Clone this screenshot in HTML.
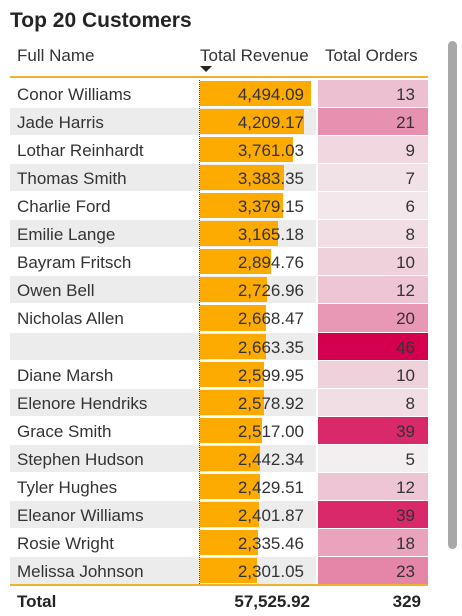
<!DOCTYPE html>
<html><head><meta charset="utf-8"><style>
body{margin:0;width:462px;height:616px;background:#fff;overflow:hidden;font-family:"Liberation Sans",sans-serif;color:#252423;position:relative}
.t{position:absolute;white-space:nowrap}
</style></head><body>
<div class="t" style="left:10px;top:9px;font-size:21px;font-weight:bold;color:#252423">Top 20 Customers</div>
<div class="t" style="left:17px;top:46px;font-size:17px;color:#333">Full Name</div>
<div class="t" style="left:200px;top:46px;font-size:17px;color:#333">Total Revenue</div>
<div class="t" style="left:325px;top:46px;font-size:17px;color:#333">Total Orders</div>
<svg style="position:absolute;left:200px;top:66px" width="12" height="8"><polygon points="0,0 12,0 6,6" fill="#252423"/></svg>
<div style="position:absolute;left:10px;top:76px;width:418px;height:2px;background:#f2b12c"></div>
<div id="rows"></div>
<div style="position:absolute;left:10px;top:584px;width:418px;height:2px;background:#f2b12c"></div>
<div class="t" style="left:17px;top:592px;font-size:17px;font-weight:bold">Total</div>
<div class="t" style="right:152px;top:592px;font-size:17px;font-weight:bold">57,525.92</div>
<div class="t" style="right:41px;top:592px;font-size:17px;font-weight:bold">329</div>
<div style="position:absolute;left:448px;top:41px;width:9px;height:508px;background:#a8a8a8;border-radius:5px"></div>
<script>
const names=["Conor Williams","Jade Harris","Lothar Reinhardt","Thomas Smith","Charlie Ford","Emilie Lange","Bayram Fritsch","Owen Bell","Nicholas Allen","","Diane Marsh","Elenore Hendriks","Grace Smith","Stephen Hudson","Tyler Hughes","Eleanor Williams","Rosie Wright","Melissa Johnson"];
const revenue=[4494.09,4209.17,3761.03,3383.35,3379.15,3165.18,2894.76,2726.96,2668.47,2663.35,2599.95,2578.92,2517.00,2442.34,2429.51,2401.87,2335.46,2301.05];
const orders=[13,21,9,7,6,8,10,12,20,46,10,8,39,5,12,39,18,23];
const root=document.getElementById('rows');
const top0=80,rh=28.06;
const maxR=Math.max(...revenue),minO=Math.min(...orders),maxO=Math.max(...orders);
const xBar=v=>v/maxR*111;
function col(v){const t=(v-minO)/(maxO-minO);const a=[243,238,240],b=[212,0,79];return `rgb(${a.map((c,i)=>Math.round(c+(b[i]-c)*t)).join(',')})`;}
const fmt=v=>v.toLocaleString('en-US',{minimumFractionDigits:2,maximumFractionDigits:2});
names.forEach((n,i)=>{
  const y=top0+i*rh;
  const r=document.createElement('div');
  
  
  r.style.cssText=`position:absolute;left:10px;top:${y}px;width:418px;height:${rh-1}px;`;
  const bg=i%2?'#ececec':'#fff';
  r.innerHTML=`<div style="position:absolute;left:0;top:0;width:306px;height:100%;background:${bg}"></div>
  <div style="position:absolute;left:189px;top:0;height:100%;border-left:1px dotted #444"></div>
  <div data-bar style="position:absolute;left:190px;top:1px;height:${rh-3}px;width:${xBar(revenue[i])}px;background:#fdab00"></div>
  <div style="position:absolute;left:308px;top:0;width:110px;height:100%;background:${col(orders[i])}"></div>
  <div class="t" style="left:7px;top:5px;font-size:17px;color:#333">${n}</div>
  <div class="t" style="right:124px;top:5px;font-size:17px;color:#333">${fmt(revenue[i])}</div>
  <div class="t" style="right:13px;top:5px;font-size:17px;color:#333">${orders[i]}</div>`;
  root.appendChild(r);
});
</script>
</body></html>
